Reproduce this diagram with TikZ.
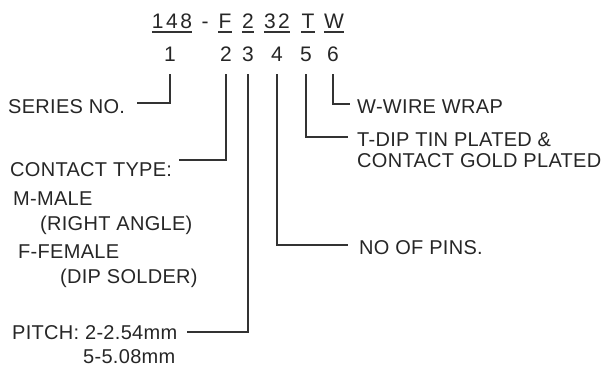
\documentclass[tikz,border=0pt]{standalone}
\usepackage{fontspec}
\setmainfont{Liberation Sans}
\begin{document}
\begin{tikzpicture}[x=1pt,y=-1pt,
  lbl/.style={anchor=west,inner sep=0pt,font=\fontsize{20}{23}\selectfont\addfontfeature{LetterSpace=1.5},text=black!85},
  code/.style={anchor=base,inner sep=0pt,font=\fontsize{21}{24}\selectfont\addfontfeature{LetterSpace=12},text=black!85},
  dig/.style={anchor=base,inner sep=0pt,font=\fontsize{21}{24}\selectfont,text=black!85},
  ln/.style={line width=1.3pt,draw=black!80},
  ul/.style={line width=1.1pt,draw=black!80}]
\useasboundingbox (0,0) rectangle (608,372);
% code row
\node[code] (c1) at (172,28) {148};
\node[code] (cd) at (205,28) {-};
\node[code] (c2) at (225,28) {F};
\node[code] (c3) at (248,28) {2};
\node[code] (c4) at (277,28) {32};
\node[code] (c5) at (308,28) {T};
\node[code] (c6) at (334,28) {W};
\foreach \n in {c1,c2,c3,c4,c5,c6}{
  \draw[ul] ([yshift=-4pt]\n.base west) -- ([yshift=-4pt]\n.base east);}
% digit row
\node[dig] (d1) at (170,61) {1};
\node[dig] (d2) at (226,61) {2};
\node[dig] (d3) at (248,61) {3};
\node[dig] (d4) at (277,61) {4};
\node[dig] (d5) at (306,61) {5};
\node[dig] (d6) at (333,61) {6};
% labels left
\node[lbl] (series) at (8,107) {SERIES NO.};
\node[lbl] (ctype) at (10,170) {CONTACT TYPE:};
\node[lbl] (male) at (13,199) {M-MALE};
\node[lbl] (rang) at (40,225) {(RIGHT ANGLE)};
\node[lbl] (fem) at (18,252) {F-FEMALE};
\node[lbl] (dip) at (60,278) {(DIP SOLDER)};
\node[lbl] (pitch) at (12,333) {PITCH: 2-2.54mm};
\node[lbl] (pitchb) at (83,357) {5-5.08mm};
% labels right
\node[lbl] (wire) at (357,107) {W-WIRE WRAP};
\node[lbl] (tdip) at (357,140) {T-DIP TIN PLATED \&};
\node[lbl] (gold) at (357,161) {CONTACT GOLD PLATED};
\node[lbl] (pins) at (359,248) {NO OF PINS.};
% connector ends
\coordinate (e1) at (137,103);
\coordinate (e2) at (179,160);
\coordinate (e3) at (187,332);
\coordinate (e4) at (348,245);
\coordinate (e5) at (348,137);
\coordinate (e6) at (350,104);
\foreach \d/\e in {d1/e1,d2/e2,d3/e3,d4/e4,d5/e5,d6/e6}{
  \draw[ln] ([yshift=-13pt]\d.base) |- (\e);}
\end{tikzpicture}
\end{document}
